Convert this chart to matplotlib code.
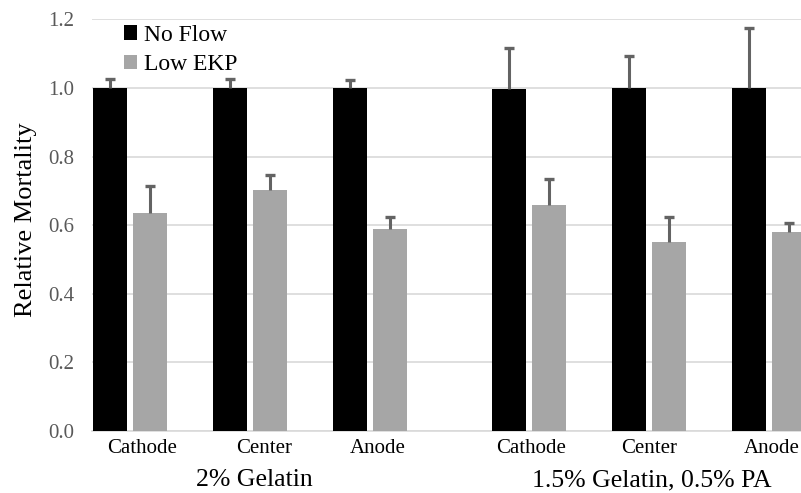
import matplotlib.pyplot as plt
import numpy as np

plt.rcParams['font.family'] = ['Liberation Serif', 'DejaVu Serif']

# data
sites = ['Cathode', 'Center', 'Anode', 'Cathode', 'Center', 'Anode']
groups = ['2% Gelatin', '1.5% Gelatin, 0.5% PA']
no_flow = [1.0, 1.0, 1.0, 0.997, 1.0, 1.0]
no_flow_err = [0.026, 0.027, 0.024, 0.12, 0.093, 0.175]
low_ekp = [0.635, 0.703, 0.589, 0.658, 0.550, 0.579]
low_ekp_err = [0.080, 0.043, 0.034, 0.076, 0.073, 0.026]

# pair centres, with a wider gap between the two gel types
pos = np.array([0, 1, 2, 3.325, 4.325, 5.325])
w = 0.29
shift = 0.1667  # half distance between the two bars in a pair

fig = plt.figure(figsize=(8.01, 4.93), dpi=100)
ax = fig.add_axes([92 / 801, 62 / 493, 709 / 801, 411.6 / 493])

err_kw = dict(ecolor='#636363', elinewidth=2.2, capsize=3.6, capthick=2.4)
b1 = ax.bar(pos - shift, no_flow, w, color='black', zorder=3,
            yerr=[np.zeros(6), no_flow_err], error_kw=err_kw)
b2 = ax.bar(pos + shift, low_ekp, w, color='#a6a6a6', zorder=3,
            yerr=[np.zeros(6), low_ekp_err], error_kw=err_kw)
# only the upper cap is drawn
for b in (b1, b2):
    b.errorbar.lines[1][0].set_visible(False)

ax.set_ylim(0, 1.2)
ax.set_xlim(-0.317, 5.592)
ax.set_yticks(np.arange(0, 1.21, 0.2))
ax.set_yticklabels(['%.1f' % v for v in np.arange(0, 1.21, 0.2)])
ax.grid(axis='y', color='#d9d9d9', linewidth=1.2, zorder=0)
for s in ['top', 'right', 'left']:
    ax.spines[s].set_visible(False)
ax.spines['bottom'].set_color('#d9d9d9')
ax.spines['bottom'].set_linewidth(1.2)
ax.tick_params(axis='y', length=0, labelsize=15, labelcolor='#595959', pad=13)
ax.tick_params(axis='x', length=0, labelsize=15, pad=6)

# site labels sit a little right of the pair centre in the first group
offs = np.array([0.1, 0.117, 0.067, 0.017, 0.004, 0.021])
ax.set_xticks(pos + offs)
ax.set_xticklabels(sites)

ax.set_ylabel('Relative Mortality', fontsize=19)
ax.yaxis.set_label_coords(-0.077, 0.513)

ax.text(1.04, (431 - 486) / 411.6, groups[0], transform=ax.get_xaxis_transform(),
        ha='center', va='baseline', fontsize=18.5)
ax.text(4.35, (431 - 486) / 411.6, groups[1], transform=ax.get_xaxis_transform(),
        ha='center', va='baseline', fontsize=18.5)

ax.legend([b1, b2], ['No Flow', 'Low EKP'], loc='upper left',
          bbox_to_anchor=(112 / 801, 1 - 13 / 493), bbox_transform=fig.transFigure,
          frameon=False, fontsize=17, handlelength=0.55, handleheight=0.55,
          handletextpad=0.3, labelspacing=0.35, borderpad=0)

fig.savefig('out.png', dpi=100)
